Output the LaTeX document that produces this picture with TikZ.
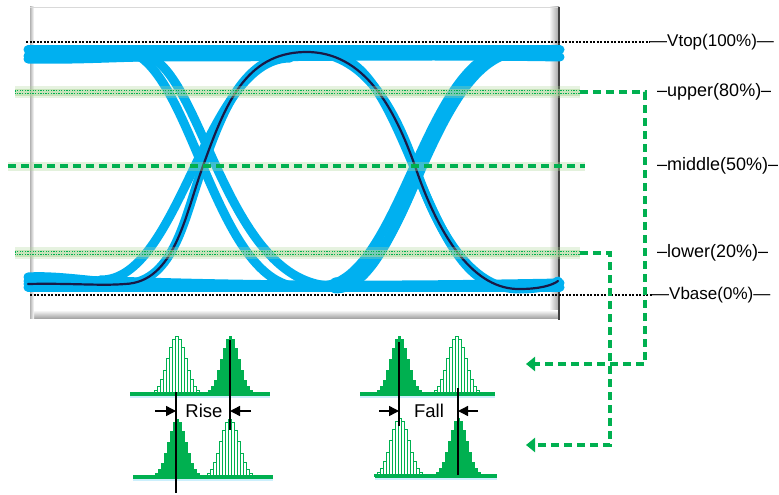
\documentclass[tikz,border=0pt]{standalone}
\usepackage{fontspec}
\setmainfont{Liberation Sans}
\usetikzlibrary{arrows.meta}
\definecolor{eyeblue}{RGB}{0,176,240}
\definecolor{mgreen}{RGB}{0,176,80}
\definecolor{glowc}{RGB}{175,215,155}
\definecolor{navy}{RGB}{25,25,70}
\newcommand\fillhist[2]{%
  \foreach \i in {-8,...,8}{%
    \pgfmathsetmacro\hgt{58*exp(-\i*\i/18)}%
    \fill[mgreen] ({#1+3*\i-1.5},#2) rectangle ++(3,-\hgt);}}
\newcommand\openhist[2]{%
  \foreach \i in {-8,...,8}{%
    \pgfmathsetmacro\hgt{58*exp(-\i*\i/18)}%
    \draw[mgreen, line width=0.8pt, fill=white] ({#1+3*\i-1.5},#2) rectangle ++(3,-\hgt);}}
\begin{document}
\begin{tikzpicture}[x=1pt,y=-1pt,
  trace/.style={eyeblue, line width=9pt, line cap=round},
  darkcurve/.style={navy, line width=2.2pt, line cap=round},
  glow1/.style={glowc, line width=12pt, opacity=0.3},
  glow2/.style={glowc, line width=7pt, opacity=0.55},
  dotl/.style={mgreen, line width=0.9pt, dash pattern=on 1.3pt off 1.3pt},
  midl/.style={mgreen, line width=3.5pt, dash pattern=on 8pt off 5pt},
  conn/.style={mgreen, line width=3.5pt, dash pattern=on 8pt off 5pt, -{Triangle[length=9pt,width=14pt]}},
  lvl/.style={black, line width=1.2pt, dash pattern=on 2pt off 1.5pt},
  lab/.style={font=\fontsize{18}{18}\selectfont, anchor=west, inner sep=0pt},
  vlab/.style={font=\fontsize{17}{17}\selectfont, anchor=west, inner sep=0pt},
  hlab/.style={font=\fontsize{18.5}{18.5}\selectfont, anchor=center, inner sep=0pt},
  base/.style={mgreen, line width=3.5pt},
  vbar/.style={black, line width=2pt},
  marr/.style={black, line width=1.4pt, -{Triangle[length=10pt,width=10pt]}}
]
\useasboundingbox (0,0) rectangle (779,495);

% frame
\fill[white] (30,7) rectangle (559,318);
\shade[left color=white, right color=gray!75] (549,7) rectangle (559,318);
\shade[top color=white, bottom color=gray!70] (30,310) rectangle (559,318);
\shade[left color=gray!60, right color=white] (30,7) rectangle (34,318);
\draw[gray!30, line width=0.8pt] (30,7) -- (559,7);
\draw[black!75, line width=1.8pt] (559,7) -- (559,320);

% reference levels
\coordinate (vtopL) at (26,42);
\coordinate (vbaseL) at (30,295);
\node[vlab] (vtop) at (650,42) {—Vtop(100\%)—};
\node[vlab] (vbase) at (652,295) {—Vbase(0\%)—};
\draw[lvl] (vtopL) -- (vtop.west);
\draw[lvl] (vbaseL) -- (vbase.west);

% blue traces: rails
\draw[trace] (28,50) -- (560,50);
\draw[trace] (28,56) .. controls (200,59) and (400,54) .. (560,57);
\draw[trace] (28,59) .. controls (80,60) and (120,57) .. (150,57);
\draw[trace] (28,281) .. controls (100,277) and (200,290) .. (560,283);
\draw[trace] (28,287) -- (560,287);
\draw[trace] (28,277) .. controls (60,275) and (100,283) .. (140,284);
% crossing 1
\draw[trace] (120,50) .. controls (190,50) and (212,284) .. (300,287);
\draw[trace] (140,55) .. controls (200,55) and (222,280) .. (330,286);
\draw[trace] (100,280) .. controls (180,282) and (205,58) .. (290,58);
% crossing 2
\draw[trace] (330,56) .. controls (405,56) and (425,286) .. (505,286);
\draw[trace] (320,286) .. controls (400,286) and (425,52) .. (510,50);
\draw[trace] (335,282) .. controls (410,282) and (435,58) .. (495,57);
\draw[trace] (335,289) .. controls (405,289) and (430,56) .. (520,52);
% main trace
\draw[trace] (28,284) .. controls (70,283) and (100,286) .. (125,284) .. controls (175,282) and (185,215) .. (203,166) .. controls (225,105) and (245,53) .. (305,52) .. controls (365,51) and (395,110) .. (415,166) .. controls (440,240) and (475,290) .. (520,289) .. controls (540,289) and (553,285) .. (558,281);
\draw[darkcurve] (28,284) .. controls (70,283) and (100,286) .. (125,284) .. controls (175,282) and (185,215) .. (203,166) .. controls (225,105) and (245,53) .. (305,52) .. controls (365,51) and (395,110) .. (415,166) .. controls (440,240) and (475,290) .. (520,289) .. controls (540,289) and (553,285) .. (558,281);

% threshold lines
\foreach \yy/\xa/\xb in {92/15/580, 253/15/580}{
  \draw[glow1] (\xa,\yy) -- (\xb,\yy);
  \draw[glow2] (\xa,\yy) -- (\xb,\yy);}
\draw[glowc, line width=9pt, opacity=0.35] (8,166) -- (585,166);
\draw[dotl] (15,90.3) rectangle (580,93.7);
\draw[dotl] (15,251.3) rectangle (580,254.7);
\draw[midl] (8,166) -- (585,166);

\coordinate (upE) at (580,92);
\coordinate (lowE) at (580,253);
\coordinate (upT) at (526,364);
\coordinate (lowT) at (526,445);
\node[lab] (upper) at (657,92) {–upper(80\%)–};
\node[lab] (middle) at (657,166) {–middle(50\%)–};
\node[lab] (lower) at (657,253) {–lower(20\%)–};

\draw[conn] (upE) -- (645,92) |- (upT);
\draw[conn] (lowE) -- (610,253) |- (lowT);

% Rise histograms
\draw[eyeblue!20, line width=2pt] (130,397) -- (270,397);
\draw[eyeblue!20, line width=2pt] (133,480) -- (273,480);
\openhist{177}{394}
\fillhist{230}{394}
\fillhist{177}{477}
\openhist{230}{477}
\draw[base] (130,394) -- (270,394);
\draw[base] (133,477) -- (273,477);
\coordinate (r1a) at (176,392); \coordinate (r1b) at (176,493);
\coordinate (r2a) at (230,340); \coordinate (r2b) at (230,430);
\draw[vbar] (r1a) -- (r1b);
\draw[vbar] (r2a) -- (r2b);
\node[hlab] (rise) at (204,411) {Rise};
\coordinate (ra1) at (155,411); \coordinate (ra2) at (251,411);
\draw[marr] (ra1) -- (r1a |- rise);
\draw[marr] (ra2) -- (r2a |- rise);

% Fall histograms
\draw[eyeblue!20, line width=2pt] (360,397) -- (495,397);
\draw[eyeblue!20, line width=2pt] (375,479) -- (497,479);
\fillhist{399}{394}
\openhist{457}{394}
\openhist{400}{476}
\fillhist{458}{476}
\draw[base] (360,394) -- (495,394);
\draw[base] (375,476) -- (497,476);
\coordinate (f1a) at (399,342); \coordinate (f1b) at (399,426);
\coordinate (f2a) at (458,388); \coordinate (f2b) at (458,475);
\draw[vbar] (f1a) -- (f1b);
\draw[vbar] (f2a) -- (f2b);
\node[hlab] (fall) at (429,411) {Fall};
\coordinate (fa1) at (379,411); \coordinate (fa2) at (478,411);
\draw[marr] (fa1) -- (f1a |- fall);
\draw[marr] (fa2) -- (f2a |- fall);
\end{tikzpicture}
\end{document}
